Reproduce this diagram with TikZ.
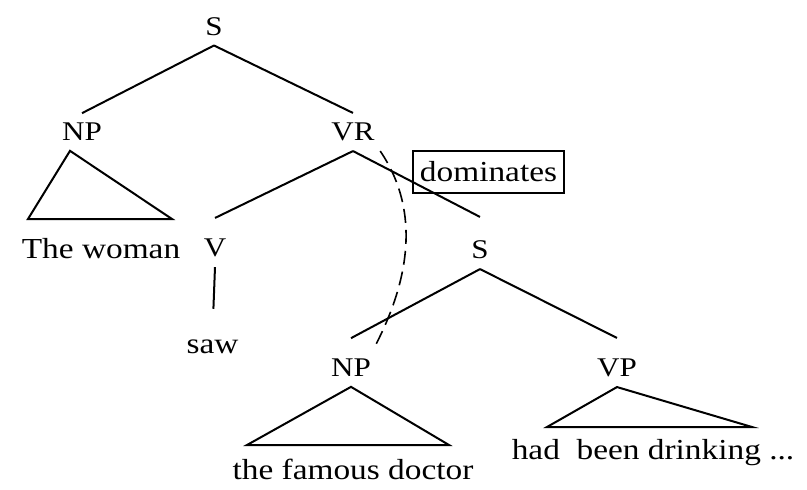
\documentclass[tikz,border=0pt]{standalone}
\usepackage{fontspec}
\setmainfont[FakeStretch=1.15]{Liberation Serif}

\tikzset{
  cat/.style={font=\fontsize{13.5}{16}\selectfont, inner sep=4.5pt},
  word/.style={font=\fontsize{14.5}{17}\selectfont, anchor=base, inner sep=3pt},
}

\begin{document}
\begin{tikzpicture}[x=10pt, y=10pt, line width=1pt]
\useasboundingbox (0,0) rectangle (40.35,-24.45);

% category labels
\node[cat] at (10.7,-1.32) (s) {S};
\node[cat] at (4.1,-6.6) (np) {NP};
\node[cat] at (17.65,-6.6) (vr) {VR};
\node[cat] at (10.75,-12.4) (v) {V};
\node[cat] at (24,-12.5) (s2) {S};
\node[cat] at (17.55,-18.4) (np2) {NP};
\node[cat] at (30.85,-18.4) (vp) {VP};

% words at the leaves
\node[word] at (5.05,-12.9) (woman) {The woman};
\node[word] at (10.625,-17.65) (saw) {saw};
\node[word] at (17.65,-23.95) (doctor) {the famous doctor};
\node[word] at (32.65,-22.97) (drinking) {had\ \ been drinking ...};

\node[word, anchor=center, draw, minimum width=75.5pt, minimum height=21pt] at (24.425,-8.6) (dom) {dominates};

% branches
\draw (s.south) -- (np.north);
\draw (s.south) -- (vr.north);
\draw (vr.south) -- ([yshift=5.5pt]v.north);
\draw (vr.south) -- ([yshift=7pt]s2.north);
\draw[shorten >=11.8pt] (v.south) -- (saw.north);
\draw (s2.south) -- ([yshift=5.5pt]np2.north);
\draw (s2.south) -- ([yshift=5.5pt]vp.north);

% triangles over the phrases
\coordinate (np-l) at (1.4,-10.95);
\coordinate (np-r) at (8.6,-10.95);
\coordinate (np2-l) at (12.35,-22.25);
\coordinate (np2-r) at (22.45,-22.25);
\coordinate (vp-l) at (27.35,-21.35);
\coordinate (vp-r) at (37.6,-21.35);
\draw ([xshift=-6pt]np.south) -- (np-l) -- (np-r) -- cycle;
\draw (np2.south) -- (np2-l) -- (np2-r) -- cycle;
\draw (vp.south) -- (vp-l) -- (vp-r) -- cycle;

% VR dominates the lower NP
\draw[line width=0.8pt, dash pattern=on 7pt off 3.5pt] (vr.-35) .. controls (21.15,-10.7) and (20.35,-14.3) .. (np2.40);
\end{tikzpicture}
\end{document}
